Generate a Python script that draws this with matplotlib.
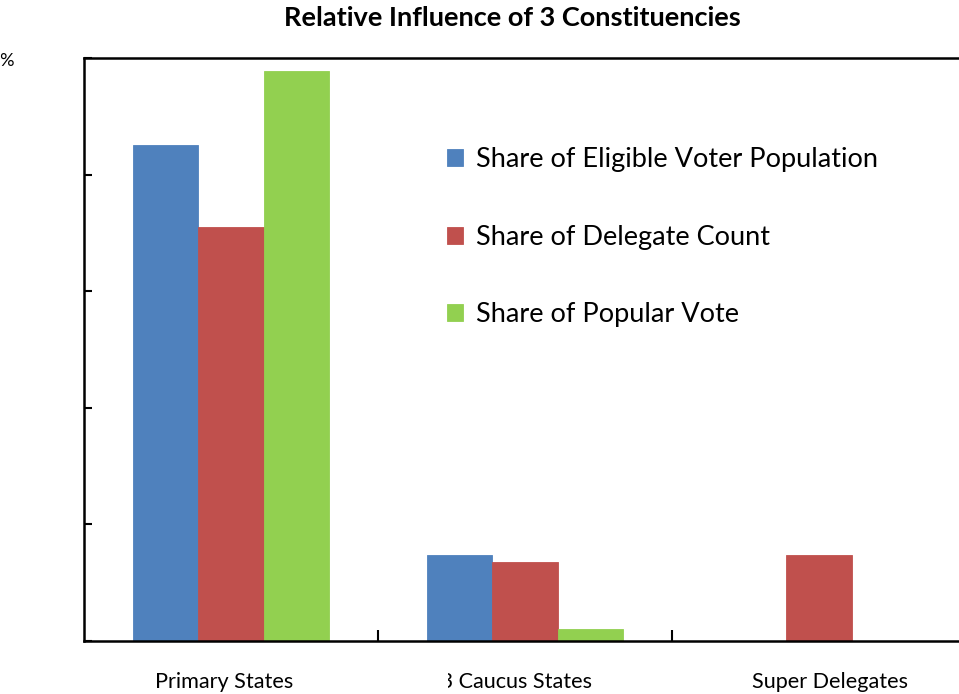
import matplotlib.pyplot as plt
import matplotlib.patches as mpatches
from matplotlib.transforms import ScaledTranslation
import numpy as np

categories = ["Primary States", "13 Caucus States", "Super Delegates"]
series_names = ["Share of Eligible Voter Population", "Share of Delegate Count", "Share of Popular Vote"]
eligible_voters = [85.1, 14.8, 0.0]
delegate_count = [71.0, 13.6, 14.8]
popular_vote = [97.8, 2.1, 0.0]
colors = ["#4F81BD", "#C0504D", "#92D050"]

W, H = 959, 694
fig = plt.figure(figsize=(W / 100, H / 100), dpi=100)
plt.rcParams['font.family'] = ['Lato', 'DejaVu Sans']

# axes run slightly past the right edge, as in the cropped original
ax = fig.add_axes([84 / W, 1 - 641 / H, 882 / W, 583 / H])

x = np.arange(len(categories))
bw = 0.223
for i, (vals, name) in enumerate(zip([eligible_voters, delegate_count, popular_vote], series_names)):
    ax.bar(x + (i - 1) * bw, vals, width=bw, color=colors[i], label=name,
           edgecolor=colors[i], linewidth=0.6, zorder=2)

ax.set_xlim(-0.5, 2.5)
ax.set_ylim(0, 100)
ax.set_yticks([0, 20, 40, 60, 80, 100])
ax.set_yticklabels([])
ax.set_xticks(x)
ax.set_xticklabels(categories, fontsize=15.6)
ax.set_xticks([0.5, 1.5], minor=True)
ax.tick_params(axis='x', which='major', length=0, pad=22.5)
ax.tick_params(axis='x', which='minor', direction='in', length=8, width=1.5)
ax.tick_params(axis='y', direction='in', length=6, width=1.5)
for s in ax.spines.values():
    s.set_linewidth(1.8)

# the labels in the original sit a little off their category centres
for lab, dx in zip(ax.get_xticklabels(), [-7, -15, 11]):
    lab.set_transform(lab.get_transform() + ScaledTranslation(dx / 100, 0, fig.dpi_scale_trans))

leg = ax.legend(loc='upper left', bbox_to_anchor=(0.4116, 0.847), frameon=False,
                fontsize=19.5, labelspacing=1.94, handlelength=0.6, handleheight=0.6,
                handletextpad=0.48, borderaxespad=0, borderpad=0)

fig.text(512 / W, 1 - 18 / H, "Relative Influence of 3 Constituencies",
         ha='center', va='center', fontsize=19.5, fontweight='bold')
# cut-off top tick label at the left edge
fig.text(15 / W, 1 - 61 / H, "100%", ha='right', va='center', fontsize=13)

# the original crop hides the start of the middle label
fig.add_artist(mpatches.Rectangle((380 / W, 0), 68 / W, 45 / H, transform=fig.transFigure,
                                  facecolor='white', edgecolor='none', zorder=10))

fig.savefig("out.png", dpi=100)
